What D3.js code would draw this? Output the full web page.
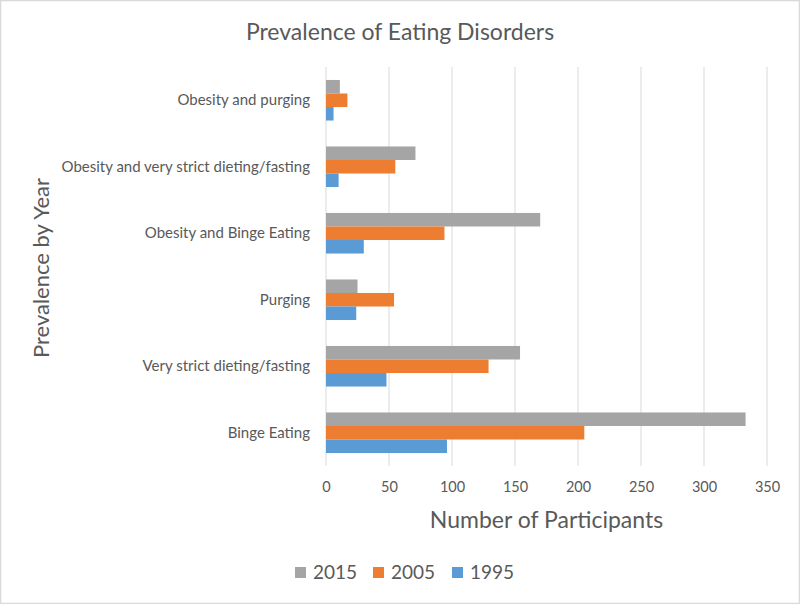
<!DOCTYPE html>
<html><head><meta charset="utf-8">
<script src="https://cdn.jsdelivr.net/npm/d3@7"></script>
<style>
html,body{margin:0;padding:0;background:#fff;}
svg{display:block;}
text{font-family:Lato,"Open Sans",sans-serif;}
</style></head>
<body>
<svg id="chart" width="800" height="604"></svg>
<script>
const categories = ["Obesity and purging","Obesity and very strict dieting/fasting","Obesity and Binge Eating","Purging","Very strict dieting/fasting","Binge Eating"];
const seriesNames = ["2015","2005","1995"];
const values2015 = [11, 71, 170, 25, 154, 333];
const values2005 = [17, 55, 94, 54, 129, 205];
const values1995 = [6, 10, 30, 24, 48, 96];
const xTicks = [0,50,100,150,200,250,300,350];
const colors = ["#a5a5a5","#ed7d31","#5b9bd5"];

(function(){
const seriesValues = [values2015, values2005, values1995];
const svg = d3.select("#chart");
svg.append("rect").attr("x",0.5).attr("y",0.5).attr("width",799).attr("height",603)
  .attr("fill","#fff").attr("stroke","#d9d9d9").attr("stroke-width",1.5);

const pl = 326, pr = 767, pt = 67, pb = 466;
const x = d3.scaleLinear().domain([0,350]).range([pl,pr]);
const y = d3.scaleBand().domain(categories).range([pt,pb]).paddingInner(0.39).paddingOuter(0.195);
const ys = d3.scaleBand().domain(seriesNames).range([0,y.bandwidth()]);

svg.append("g").selectAll("line").data(xTicks).join("line")
  .attr("x1",d=>x(d)).attr("x2",d=>x(d)).attr("y1",pt).attr("y2",pb)
  .attr("stroke","#d9d9d9").attr("stroke-width",1);

const data = [];
categories.forEach((c,i)=>seriesNames.forEach((s,j)=>data.push({c,s,v:seriesValues[j][i],j})));
svg.append("g").selectAll("rect").data(data).join("rect")
  .attr("x",x(0)).attr("y",d=>y(d.c)+ys(d.s))
  .attr("width",d=>x(d.v)-x(0)).attr("height",ys.bandwidth())
  .attr("fill",d=>colors[d.j]);

const xAxis = d3.axisBottom(x).tickValues(xTicks).tickSize(0).tickPadding(16);
const gx = svg.append("g").attr("transform",`translate(0,${pb})`).call(xAxis);
gx.select(".domain").remove();
gx.selectAll("text").attr("fill","#595959").style("font-size","14.5px").style("font-family","Lato,sans-serif");

const yAxis = d3.axisLeft(y).tickSize(0).tickPadding(16);
const gy = svg.append("g").attr("transform",`translate(${pl},0)`).call(yAxis);
gy.select(".domain").remove();
gy.selectAll("text").attr("fill","#595959").style("font-size","15px").style("font-family","Lato,sans-serif");

svg.append("text").attr("x",400).attr("y",40).attr("text-anchor","middle")
  .attr("fill","#595959").style("font-size","23px").text("Prevalence of Eating Disorders");
svg.append("text").attr("x",(pl+pr)/2).attr("y",528).attr("text-anchor","middle")
  .attr("fill","#595959").style("font-size","23px").text("Number of Participants");
svg.append("text").attr("transform","translate(49,268) rotate(-90)").attr("text-anchor","middle")
  .attr("fill","#595959").style("font-size","22px").text("Prevalence by Year");

const legendX = [295, 373, 452];
const lg = svg.append("g").selectAll("g").data(seriesNames).join("g")
  .attr("transform",(d,i)=>`translate(${legendX[i]},567)`);
lg.append("rect").attr("width",11).attr("height",11).attr("fill",(d,i)=>colors[i]);
lg.append("text").attr("x",18).attr("y",11.5).attr("fill","#595959").style("font-size","19px").text(d=>d);
})();
</script>
</body></html>
